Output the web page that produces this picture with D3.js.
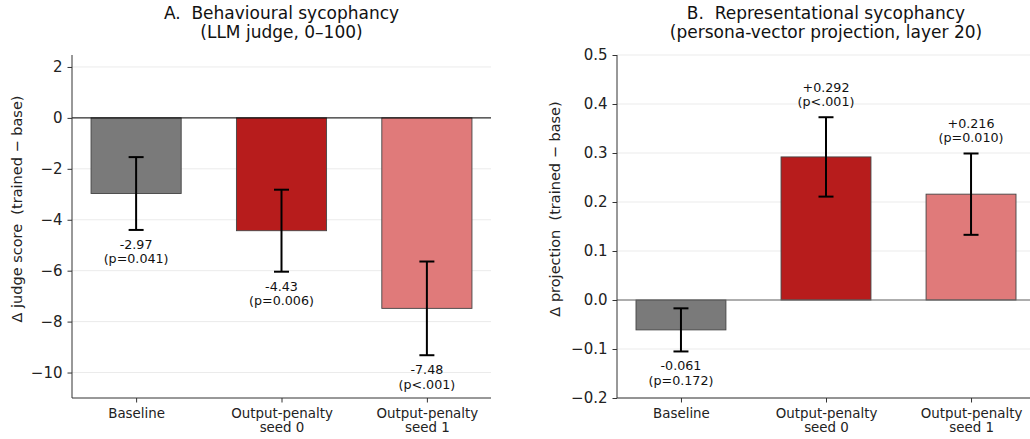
<!DOCTYPE html>
<html lang="en">
<head>
  <meta charset="UTF-8"/>
  <title>Sycophancy deltas</title>
  <script src="https://d3js.org/d3.v7.min.js"></script>
  <style>
    body { margin:0; background:#fff; font-family:"DejaVu Sans",sans-serif; }
    svg { display:block; }
    .grid line { stroke:#ebebeb; stroke-width:1; }
    .axis path, .axis line { stroke:#333; }
    .axis text { fill:#222; font-family:"DejaVu Sans",sans-serif; }
  </style>
</head>
<body>
  <svg id="chart" width="1030" height="439"></svg>
  <script>
    // categories and values
    const categories = ['Baseline', 'Output-penalty\nseed 0', 'Output-penalty\nseed 1'];
    const barColors  = ['#7a7a7a', '#b71c1c', '#e07a7a'];

    const judgeDelta = [-2.97, -4.43, -7.48];
    const judgeErr   = [1.43, 1.61, 1.84];
    const judgeP     = ['p=0.041', 'p=0.006', 'p<.001'];
    const judgeTicks = [-10, -8, -6, -4, -2, 0, 2];

    const projDelta  = [-0.061, 0.292, 0.216];
    const projErr    = [0.044, 0.081, 0.083];
    const projP      = ['p=0.172', 'p<.001', 'p=0.010'];
    const projTicks  = [-0.2, -0.1, 0, 0.1, 0.2, 0.3, 0.4, 0.5];

    const svg = d3.select('#chart');
    const minus = s => s.replace('-', '\u2212');

    function panel(o){
      const g = svg.append('g');
      const x = d3.scaleLinear().domain([-0.441, 2.441]).range([o.x0, o.x1]);
      const y = d3.scaleLinear().domain(o.domain).range([o.y1, o.y0]);
      const bw = x(0.31) - x(0);

      // gridlines
      g.append('g').attr('class','grid')
        .selectAll('line').data(o.ticks).join('line')
          .attr('x1',o.x0).attr('x2',o.x1)
          .attr('y1',d=>y(d)).attr('y2',d=>y(d));

      // bars
      g.selectAll('rect.bar').data(o.values).join('rect')
        .attr('class','bar')
        .attr('x',(d,i)=>x(i)-bw)
        .attr('width',bw*2)
        .attr('y',d=>y(Math.max(0,d)))
        .attr('height',d=>Math.abs(y(d)-y(0)))
        .attr('fill',(d,i)=>barColors[i])
        .attr('stroke','#444').attr('stroke-width',0.9);

      // zero line
      g.append('line')
        .attr('x1',o.x0).attr('x2',o.x1)
        .attr('y1',y(0)).attr('y2',y(0))
        .attr('stroke',o.zeroColor).attr('stroke-width',1);

      // error bars
      o.values.forEach((v,i)=>{
        const cx = x(i), lo = y(v - o.err[i]), hi = y(v + o.err[i]);
        g.append('line').attr('x1',cx).attr('x2',cx).attr('y1',lo).attr('y2',hi)
          .attr('stroke','#000').attr('stroke-width',2);
        [lo,hi].forEach(yy=>{
          g.append('line').attr('x1',cx-7.5).attr('x2',cx+7.5).attr('y1',yy).attr('y2',yy)
            .attr('stroke','#000').attr('stroke-width',2);
        });

        // value annotation
        const txt = (v>0?'+':'') + v.toFixed(o.digits);
        const t = g.append('text').attr('text-anchor','middle')
          .attr('font-size','12.7px').attr('fill','#111');
        let b1;
        if(v>=0){ b1 = hi - 11 - 14.5; }
        else    { b1 = lo + 19; }
        t.append('tspan').attr('x',cx).attr('y',b1).text(txt);
        t.append('tspan').attr('x',cx).attr('y',b1+14.5).text('(' + o.p[i] + ')');
      });

      // axes
      const ya = g.append('g').attr('class','axis')
        .attr('transform',`translate(${o.x0},0)`)
        .call(d3.axisLeft(y).tickValues(o.ticks).tickSize(4.5).tickPadding(5)
          .tickFormat(d=>minus(o.fmt(d))));
      ya.select('.domain').attr('d',`M0,${o.y0}V${o.y1}`);
      ya.selectAll('text').attr('font-size','15px');

      const xa = g.append('g').attr('class','axis')
        .attr('transform',`translate(0,${o.y1})`)
        .call(d3.axisBottom(x).tickValues([0,1,2]).tickSize(4.5).tickFormat(''));
      xa.select('.domain').attr('d',`M${o.x0},0H${o.x1}`);
      xa.selectAll('.tick').each(function(d){
        const t = d3.select(this).append('text')
          .attr('fill','#222').attr('text-anchor','middle').attr('font-size','13.4px');
        categories[d].split('\n').forEach((s,k)=>{
          t.append('tspan').attr('x',0).attr('y',19.5 + k*14.5).text(s);
        });
      });

      // y label
      g.append('text')
        .attr('transform',`translate(${o.ylabelX},209) rotate(-90)`)
        .attr('text-anchor','middle').attr('font-size','14.5px').attr('fill','#222')
        .attr('xml:space','preserve')
        .text(o.ylabel);

      // title
      const cx = (o.x0 + o.x1)/2;
      const tt = g.append('text').attr('text-anchor','middle')
        .attr('font-size','17px').attr('fill','#111').attr('xml:space','preserve');
      o.title.forEach((s,k)=>{
        tt.append('tspan').attr('x',cx).attr('y',19 + k*18.5).text(s);
      });
    }

    panel({
      x0:72, x1:491, y0:55, y1:398,
      domain:[-11, 2.47], ticks:judgeTicks, fmt:d3.format('d'),
      values:judgeDelta, err:judgeErr, p:judgeP, digits:2,
      zeroColor:'#000',
      ylabel:'\u0394 judge score  (trained \u2212 base)', ylabelX:22,
      title:['A.  Behavioural sycophancy', '(LLM judge, 0\u2013100)']
    });

    panel({
      x0:617, x1:1035, y0:55, y1:398,
      domain:[-0.2, 0.5], ticks:projTicks, fmt:d3.format('.1f'),
      values:projDelta, err:projErr, p:projP, digits:3,
      zeroColor:'#666',
      ylabel:'\u0394 projection  (trained \u2212 base)', ylabelX:560,
      title:['B.  Representational sycophancy', '(persona-vector projection, layer 20)']
    });
  </script>
</body>
</html>
